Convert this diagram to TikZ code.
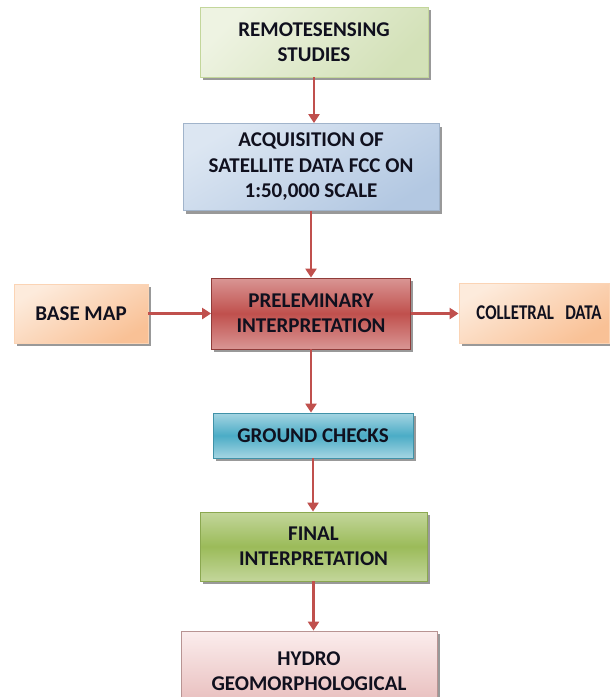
\documentclass[tikz,border=0pt]{standalone}
\usepackage{fontspec}
\setmainfont{Carlito}
\usetikzlibrary{arrows.meta,shadows}
\definecolor{arr}{HTML}{C0504D}
\definecolor{txt}{HTML}{10101E}
\definecolor{glA}{HTML}{EEF3E2}\definecolor{glB}{HTML}{D3E1B8}
\definecolor{blA}{HTML}{DCE6F2}\definecolor{blB}{HTML}{B3C8E2}
\definecolor{orA}{HTML}{FDEBDC}\definecolor{orB}{HTML}{F9C196}
\definecolor{rdA}{HTML}{D99694}\definecolor{rdB}{HTML}{C0504D}
\definecolor{cyA}{HTML}{A5D5E2}\definecolor{cyB}{HTML}{4BACC6}
\definecolor{grA}{HTML}{C3D69B}\definecolor{grB}{HTML}{9BBB59}
\definecolor{pkA}{HTML}{FBEDED}\definecolor{pkB}{HTML}{E6B9B8}
\tikzset{
  box/.style={draw, line width=0.8pt, align=center, inner sep=2pt,
    font=\fontsize{21}{25.5}\selectfont\bfseries, text=txt,
    drop shadow={shadow xshift=2.5pt, shadow yshift=-3pt, fill=black!50, opacity=0.8}},
  greenlt/.style={box, draw=grB!60, top color=glA, bottom color=glB, shading angle=45},
  bluelt/.style={box, draw=blB!90!black, top color=blA, bottom color=blB, shading angle=30},
  orange/.style={box, draw=orB!70, top color=orB, bottom color=orA, shading angle=-150},
  redbox/.style={box, draw=rdB!75!black, top color=rdA, bottom color=rdA, middle color=rdB},
  cyanbox/.style={box, draw=cyB!85!black, top color=cyA, bottom color=cyA, middle color=cyB},
  greenbox/.style={box, draw=grB!90!black, top color=grA, bottom color=grA, middle color=grB},
  pinkbox/.style={box, draw=pkB!80!black, top color=pkA, bottom color=pkB, drop shadow={opacity=0}},
  conn/.style={draw=arr, line width=2.8pt, -{Triangle[width=11pt,length=9pt]}}
}
\begin{document}
\begin{tikzpicture}[x=1pt,y=-1pt]
\useasboundingbox (0,0) rectangle (610,697);
\fill[white] (0,0) rectangle (610,697);
\node[greenlt, minimum width=228pt, minimum height=70pt] (rs) at (314,42) {REMOTESENSING\\STUDIES};
\node[bluelt, minimum width=256pt, minimum height=87pt] (acq) at (311,167) {ACQUISITION OF\\SATELLITE DATA FCC ON\\1:50,000 SCALE};
\node[orange, minimum width=134pt, minimum height=59pt] (base) at (81,313.5) {BASE MAP};
\node[redbox, minimum width=199pt, minimum height=71pt] (pre) at (311,313.5) {PRELEMINARY\\INTERPRETATION};
\node[orange, minimum width=150pt, minimum height=60pt, text width=140pt] (col) at (534,313) {\hspace*{10pt}\scalebox{0.8}[1]{COLLETRAL\ \ DATA}};
\node[cyanbox, minimum width=200pt, minimum height=45pt] (gc) at (313,435.5) {GROUND CHECKS};
\node[greenbox, minimum width=227pt, minimum height=69pt] (fin) at (313.5,546.5) {FINAL\\INTERPRETATION};
\node[pinkbox, minimum width=256pt, minimum height=80pt] (hy) at (309,671) {HYDRO\\GEOMORPHOLOGICAL};
\draw[conn] (rs.south) -- (rs.south |- acq.north);
\draw[conn] (acq.south) -- (acq.south |- pre.north);
\draw[conn] (base.east) -- (base.east -| pre.west);
\draw[conn] (pre.east) -- (pre.east -| col.west);
\draw[conn] (pre.south) -- (pre.south |- gc.north);
\draw[conn] (gc.south) -- (gc.south |- fin.north);
\draw[conn] (fin.south) -- (fin.south |- hy.north);
\end{tikzpicture}
\end{document}
